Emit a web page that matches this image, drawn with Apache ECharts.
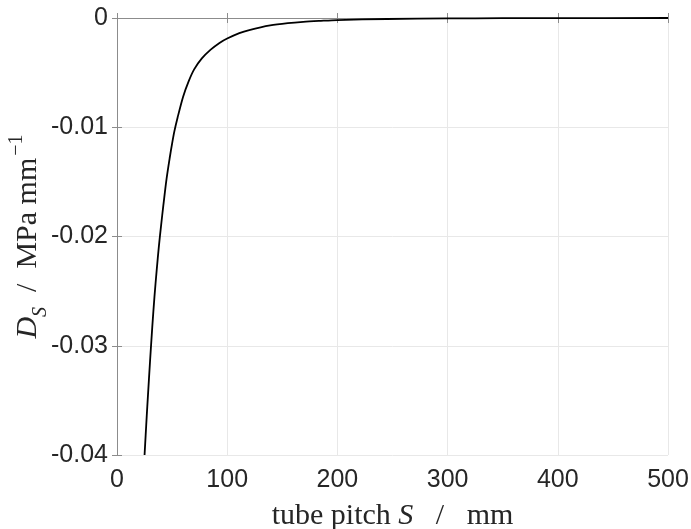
<!DOCTYPE html>
<html>
<head>
<meta charset="utf-8">
<script src="https://cdn.jsdelivr.net/npm/echarts@6/dist/echarts.min.js"></script>
<style>
html,body{margin:0;padding:0;background:#fff;}
#chart{width:691px;height:529px;}
</style>
</head>
<body>
<div id="chart"></div>
<script>
// tube pitch S (mm)
var pitchS = [25, 26, 27, 28, 30, 32, 34, 36, 38, 40, 42, 45, 48, 50, 52, 55, 60, 65, 70, 77, 85, 93, 100, 111, 120, 139, 155, 169, 185, 200, 245, 300, 350, 400, 500];
// D_S (MPa mm^-1)
var dS = [-0.0400, -0.0382, -0.0364, -0.0347, -0.0314, -0.0283, -0.0255, -0.0231, -0.0209, -0.0190, -0.0172, -0.0147, -0.0127, -0.0115, -0.0104, -0.0091, -0.0072, -0.0058, -0.0047, -0.0037, -0.0029, -0.00228, -0.00188, -0.00138, -0.00110, -0.00068, -0.00047, -0.00035, -0.00026, -0.00019, -0.00009, -0.00004, -0.00002, -0.00001, 0];
var xTicks = [0, 100, 200, 300, 400, 500];
var yTicks = [-0.04, -0.03, -0.02, -0.01, 0];

var chart = echarts.init(document.getElementById('chart'), null, {renderer: 'canvas'});
var labelFont = {fontFamily: 'Liberation Sans, Arial, sans-serif', fontSize: 25, color: '#262626'};
var axisLineStyle = {color: '#8c8c8c', width: 1};
var serif = 'Liberation Serif, DejaVu Serif, serif';

chart.setOption({
  backgroundColor: '#fff',
  animation: false,
  grid: {left: 117, top: 18, right: 23, bottom: 74, containLabel: false, outerBoundsMode: 'none'},
  xAxis: [{
    type: 'value', min: xTicks[0], max: xTicks[xTicks.length - 1], interval: 100,
    position: 'bottom',
    axisLine: {show: true, lineStyle: axisLineStyle},
    axisTick: {show: true, inside: true, length: 5, lineStyle: axisLineStyle},
    axisLabel: Object.assign({margin: 13, formatter: function (v) { return String(v); }}, labelFont),
    splitLine: {show: true, lineStyle: {color: '#e8e8e8', width: 1}},
    name: '{n|tube pitch }{i|S}{n|   /   mm}',
    nameLocation: 'middle', nameGap: 46, nameMoveOverlap: false,
    nameTextStyle: {
      rich: {
        n: {fontFamily: serif, fontSize: 30, color: '#262626'},
        i: {fontFamily: serif, fontSize: 30, fontStyle: 'italic', color: '#262626'}
      }
    }
  }, {
    type: 'value', min: xTicks[0], max: xTicks[xTicks.length - 1], interval: 100,
    position: 'top',
    axisLine: {show: true, lineStyle: axisLineStyle},
    axisTick: {show: true, inside: true, length: 5, lineStyle: axisLineStyle},
    axisLabel: {show: false},
    splitLine: {show: false}
  }],
  yAxis: [{
    type: 'value', min: yTicks[0], max: yTicks[yTicks.length - 1], interval: 0.01,
    position: 'left',
    axisLine: {show: true, lineStyle: axisLineStyle},
    axisTick: {show: true, inside: true, length: 5, lineStyle: axisLineStyle},
    axisLabel: Object.assign({margin: 9, formatter: function (v) {
      var r = Math.round(v * 100) / 100; return r === 0 ? '0' : r.toFixed(2);
    }}, labelFont),
    splitLine: {show: true, lineStyle: {color: '#e8e8e8', width: 1}},
    name: '{i|D}{sub|S}{n|  /  MPa mm}{sup|−1}',
    nameLocation: 'middle', nameGap: 72, nameRotate: 90, nameMoveOverlap: false,
    nameTextStyle: {
      rich: {
        n: {fontFamily: serif, fontSize: 30, color: '#262626', lineHeight: 34, verticalAlign: 'middle'},
        i: {fontFamily: serif, fontSize: 30, fontStyle: 'italic', color: '#262626', lineHeight: 34, verticalAlign: 'middle'},
        sub: {fontFamily: serif, fontSize: 20, fontStyle: 'italic', color: '#262626', verticalAlign: 'bottom', lineHeight: 34, padding: [0, 0, -6, 0]},
        sup: {fontFamily: serif, fontSize: 20, color: '#262626', verticalAlign: 'top', lineHeight: 34, padding: [-4, 0, 0, 2]}
      }
    }
  }, {
    type: 'value', min: yTicks[0], max: yTicks[yTicks.length - 1], interval: 0.01,
    position: 'right',
    axisLine: {show: true, lineStyle: axisLineStyle},
    axisTick: {show: true, inside: true, length: 5, lineStyle: axisLineStyle},
    axisLabel: {show: false},
    splitLine: {show: false}
  }],
  series: [{
    type: 'line',
    xAxisIndex: 0, yAxisIndex: 0,
    data: pitchS.map(function (s, i) { return [s, dS[i]]; }),
    smooth: 0.3,
    showSymbol: false,
    clip: true,
    lineStyle: {color: '#000', width: 1.8}
  }]
});
</script>
</body>
</html>
